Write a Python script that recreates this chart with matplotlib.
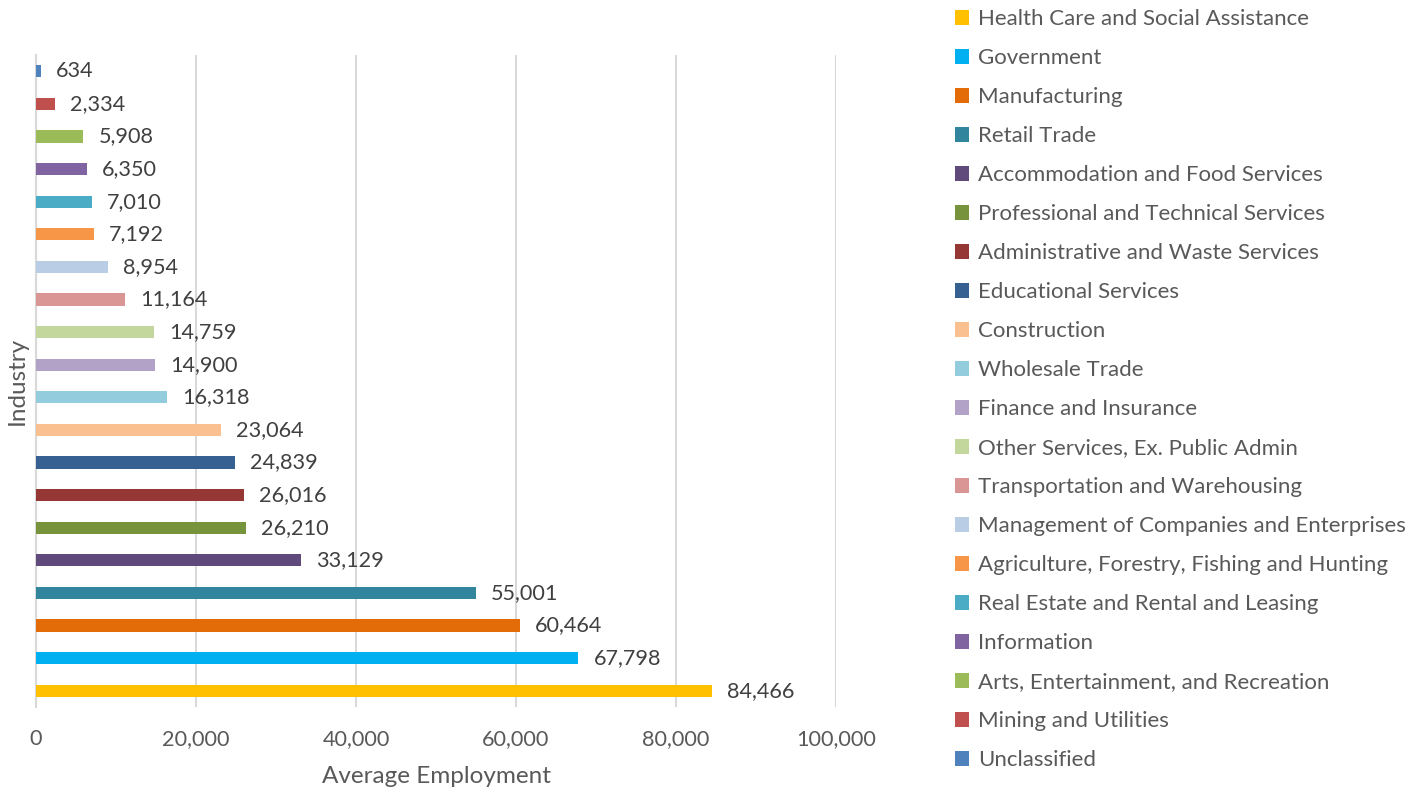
import matplotlib.pyplot as plt
from matplotlib.ticker import FuncFormatter

industries = ['Health Care and Social Assistance', 'Government', 'Manufacturing',
              'Retail Trade', 'Accommodation and Food Services',
              'Professional and Technical Services', 'Administrative and Waste Services',
              'Educational Services', 'Construction', 'Wholesale Trade',
              'Finance and Insurance', 'Other Services, Ex. Public Admin',
              'Transportation and Warehousing', 'Management of Companies and Enterprises',
              'Agriculture, Forestry, Fishing and Hunting', 'Real Estate and Rental and Leasing',
              'Information', 'Arts, Entertainment, and Recreation', 'Mining and Utilities',
              'Unclassified']
employment = [84466, 67798, 60464, 55001, 33129, 26210, 26016, 24839, 23064, 16318,
              14900, 14759, 11164, 8954, 7192, 7010, 6350, 5908, 2334, 634]
colors = ['#FFC000', '#00B0F0', '#E36C09', '#31859C', '#604A7B', '#77933C', '#953735',
          '#376092', '#FAC090', '#93CDDD', '#B3A2C7', '#C3D69B', '#D99694', '#B9CDE5',
          '#F79646', '#4BACC6', '#8064A2', '#9BBB59', '#C0504D', '#4F81BD']

plt.rcParams['font.family'] = ['Lato', 'DejaVu Sans']

fig = plt.figure(figsize=(14.24, 7.9), dpi=100)
ax = fig.add_axes([36/1424, 1-707/790, 800/1424, 652/790])

handles = []
for i, (name, val, c) in enumerate(zip(industries, employment, colors)):
    h = ax.barh(i, val, height=0.37, color=c, label=name, zorder=3)
    handles.append(h)
    ax.text(val + 1900, i, f'{val:,}', va='center', ha='left', fontsize=15.6,
            color='#404040', zorder=4)

ax.set_xlim(0, 100000)
ax.set_ylim(-0.5, 19.5)
ax.set_xticks(range(0, 100001, 20000))
ax.xaxis.set_major_formatter(FuncFormatter(lambda v, p: f'{int(v):,}'))
ax.set_yticks([])
ax.grid(axis='x', color='#D9D9D9', linewidth=1.5, zorder=0)
for s in ['top', 'right', 'bottom']:
    ax.spines[s].set_visible(False)
ax.spines['left'].set_color('#D9D9D9')
ax.spines['left'].set_linewidth(1.5)
ax.tick_params(axis='x', length=0, labelsize=15.6, labelcolor='#595959', pad=16)
ax.set_xlabel('Average Employment', fontsize=17.5, color='#595959', labelpad=12)
ax.set_ylabel('Industry', fontsize=17.5, color='#595959', labelpad=6)

fig.legend(handles=handles, loc='upper left', bbox_to_anchor=(946/1424, 1.0),
           frameon=False, fontsize=16, labelcolor='#595959', handlelength=0.65,
           handleheight=0.65, handletextpad=0.4, labelspacing=0.855, borderaxespad=0.0)

fig.savefig('out.png', dpi=100)
